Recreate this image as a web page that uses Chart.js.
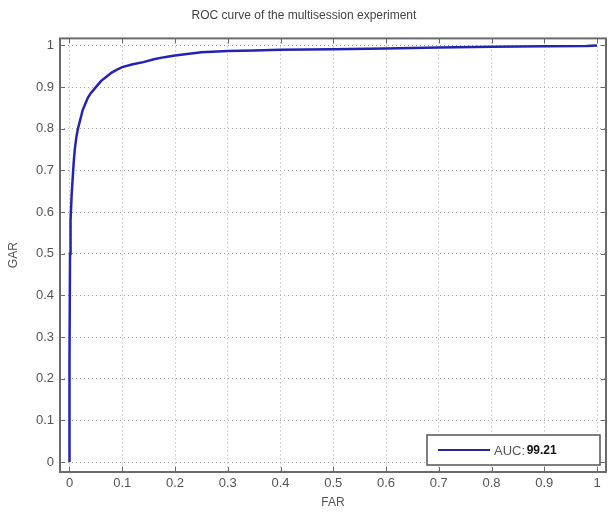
<!DOCTYPE html>
<html>
<head>
<meta charset="utf-8">
<script src="https://cdn.jsdelivr.net/npm/chart.js@4.4.1/dist/chart.umd.min.js"></script>
<style>
  html, body { margin: 0; padding: 0; background: #fff; }
  #wrap { width: 608px; height: 516px; }
</style>
</head>
<body>
<div id="wrap"><canvas id="roc"></canvas></div>
<script>
// ---- data ----
const farValues = [0, 0, 0.001, 0.002, 0.004, 0.006, 0.008, 0.010, 0.013, 0.016, 0.020, 0.025, 0.030,
  0.035, 0.040, 0.050, 0.060, 0.070, 0.080, 0.090, 0.100, 0.120, 0.140, 0.160, 0.180, 0.200,
  0.250, 0.300, 0.350, 0.400, 0.500, 0.600, 0.700, 0.800, 0.900, 0.980, 1.000];
const garValues = [0, 0.25, 0.50, 0.58, 0.64, 0.68, 0.72, 0.75, 0.78, 0.80, 0.82, 0.845, 0.86,
  0.875, 0.885, 0.900, 0.915, 0.925, 0.935, 0.942, 0.948, 0.955, 0.960, 0.967, 0.972, 0.976,
  0.984, 0.987, 0.988, 0.990, 0.991, 0.993, 0.995, 0.997, 0.998, 0.999, 1.000];
const xTicks = [0, 0.1, 0.2, 0.3, 0.4, 0.5, 0.6, 0.7, 0.8, 0.9, 1];
const yTicks = [0, 0.1, 0.2, 0.3, 0.4, 0.5, 0.6, 0.7, 0.8, 0.9, 1];
const legendName = "AUC: ";
const legendValue = "99.21";

const lineColor = '#2323b4';
const frameColor = '#6b6b6b';
const fontFam = '"Liberation Sans", Arial, sans-serif';

// box round the plot + inward ticks on all four sides + legend box
const matlabFrame = {
  id: 'matlabFrame',
  afterDraw(chart) {
    const c = chart.ctx, a = chart.chartArea;
    const xs = chart.scales.x, ys = chart.scales.y;
    c.save();
    c.strokeStyle = frameColor;
    c.lineWidth = 2;
    c.strokeRect(a.left, a.top, a.right - a.left, a.bottom - a.top);
    c.lineWidth = 1;
    c.beginPath();
    xTicks.forEach(v => {
      const px = Math.round(xs.getPixelForValue(v)) + 0.5;
      c.moveTo(px, a.bottom); c.lineTo(px, a.bottom - 5);
      c.moveTo(px, a.top); c.lineTo(px, a.top + 5);
    });
    yTicks.forEach(v => {
      const py = Math.round(ys.getPixelForValue(v)) + 0.5;
      c.moveTo(a.left, py); c.lineTo(a.left + 5, py);
      c.moveTo(a.right, py); c.lineTo(a.right - 5, py);
    });
    c.stroke();

    // legend
    const lx = 427, ly = 435, lw = 173, lh = 30;
    c.fillStyle = '#fff';
    c.fillRect(lx, ly, lw, lh);
    c.strokeStyle = '#555';
    c.lineWidth = 1.5;
    c.strokeRect(lx, ly, lw, lh);
    c.strokeStyle = '#2a2a8c';
    c.lineWidth = 2;
    c.beginPath();
    c.moveTo(438, ly + lh / 2); c.lineTo(490, ly + lh / 2);
    c.stroke();
    c.textBaseline = 'middle';
    c.fillStyle = '#555';
    c.font = '13px ' + fontFam;
    c.fillText(legendName, 494, ly + lh / 2 + 1);
    const w = c.measureText(legendName).width;
    c.fillStyle = '#111';
    c.font = 'bold 12px ' + fontFam;
    c.fillText(legendValue, 494 + w - 2, ly + lh / 2 + 1);
    c.restore();
  }
};

const ctx = document.getElementById('roc').getContext('2d');
const points = farValues.map((x, i) => ({ x: x, y: garValues[i] }));

const rocChart = new Chart(ctx, {
  type: 'scatter',
  data: {
    datasets: [{
      label: 'AUC',
      data: points,
      showLine: true,
      borderColor: lineColor,
      borderWidth: 2.5,
      pointRadius: 0,
      tension: 0
    }]
  },
  options: {
    responsive: true,
    maintainAspectRatio: false,
    animation: false,
    layout: { padding: { left: 2, right: 2, top: 0, bottom: 0 } },
    plugins: {
      legend: { display: false },
      tooltip: { enabled: false },
      title: {
        display: true,
        text: 'ROC curve of the multisession experiment',
        color: '#444',
        font: { family: fontFam, size: 12, weight: 'normal' },
        padding: { top: 8, bottom: 16 }
      }
    },
    scales: {
      x: {
        type: 'linear',
        min: -0.018,
        max: 1.017,
        afterBuildTicks: (s) => { s.ticks = xTicks.map(v => ({ value: v })); },
        afterFit: (s) => { s.height = 44; },
        ticks: {
          color: '#555',
          font: { family: fontFam, size: 13 },
          padding: 4,
          maxRotation: 0,
          callback: (v) => String(v)
        },
        grid: { color: '#a8a8a8', drawTicks: false },
        border: { display: false, dash: [1, 3] },
        title: {
          display: true,
          text: 'FAR',
          color: '#555',
          font: { family: fontFam, size: 12 },
          padding: { top: 0, bottom: 6 }
        }
      },
      y: {
        type: 'linear',
        min: -0.024,
        max: 1.017,
        afterBuildTicks: (s) => { s.ticks = yTicks.map(v => ({ value: v })); },
        afterFit: (s) => { s.width = 58; },
        ticks: {
          color: '#555',
          font: { family: fontFam, size: 13 },
          padding: 6,
          callback: (v) => String(v)
        },
        grid: { color: '#a8a8a8', drawTicks: false },
        border: { display: false, dash: [1, 3] },
        title: {
          display: true,
          text: 'GAR',
          color: '#555',
          font: { family: fontFam, size: 12 },
          padding: { top: 4, bottom: 0 }
        }
      }
    }
  },
  plugins: [matlabFrame]
});
</script>
</body>
</html>
